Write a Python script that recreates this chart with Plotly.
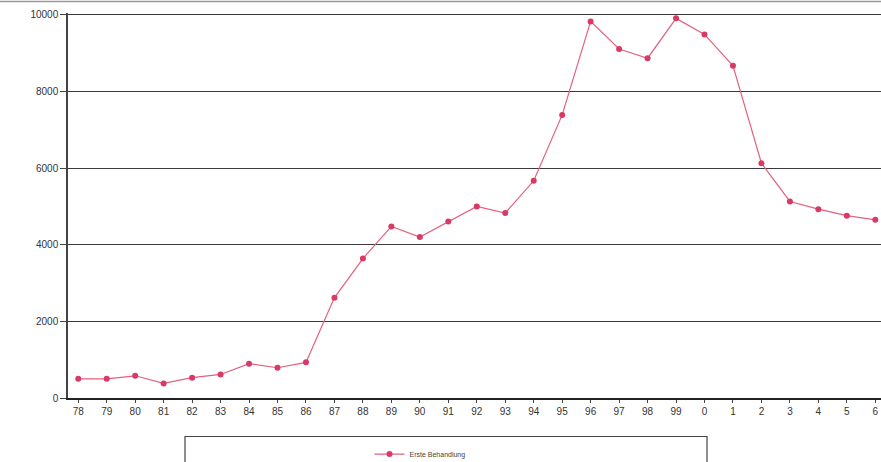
import plotly.graph_objects as go

# Jahre (zweistellig) und Anzahl der Erstbehandlungen
years = ["78", "79", "80", "81", "82", "83", "84", "85", "86", "87", "88", "89",
         "90", "91", "92", "93", "94", "95", "96", "97", "98", "99",
         "0", "1", "2", "3", "4", "5", "6"]
erste_behandlung = [500, 500, 580, 380, 530, 615, 895, 790, 930, 2620, 3640, 4480,
                    4200, 4610, 5000, 4830, 5670, 7390, 9830, 9110, 8870, 9910,
                    9490, 8670, 6130, 5130, 4930, 4760, 4650]
y_ticks = [0, 2000, 4000, 6000, 8000, 10000]

fig = go.Figure()
fig.add_trace(go.Scatter(
    x=list(range(len(years))),
    y=erste_behandlung,
    mode="lines+markers",
    name="Erste Behandlung",
    line=dict(color="#e4607e", width=1.2),
    marker=dict(symbol="circle", size=6, color="#d83a64"),
))

fig.update_layout(
    width=881, height=462,
    margin=dict(l=68, r=0, t=13, b=64, autoexpand=False),
    paper_bgcolor="white", plot_bgcolor="white",
    font=dict(family="Liberation Sans, Arial, sans-serif", size=10, color="#333333"),
    showlegend=True,
    legend=dict(
        x=(420 - 68) / 813, y=-0.108, xanchor="center", yanchor="top",
        orientation="h", bgcolor="rgba(0,0,0,0)",
        font=dict(size=7, color="#444444"),
    ),
    shapes=[
        # Rahmen der Legende
        dict(type="rect", xref="paper", yref="paper",
             x0=(185 - 68) / 813, x1=(707 - 68) / 813,
             y0=-0.25, y1=-0.10,
             line=dict(color="#444444", width=1.2)),
        # obere Begrenzungslinie
        dict(type="line", xref="paper", yref="paper",
             x0=-0.084, x1=1.0, y0=1.03, y1=1.03,
             line=dict(color="#999999", width=1.5)),
    ],
)

fig.update_xaxes(
    range=[-0.36, 28.2],
    tickmode="array",
    tickvals=list(range(len(years))),
    ticktext=years,
    showgrid=False,
    showline=True, linecolor="#222222", linewidth=1.5,
    ticks="outside", ticklen=3, tickcolor="#444444",
    tickson="boundaries",
    tickfont=dict(size=10, color="#333333"),
    zeroline=False,
)

fig.update_yaxes(
    range=[0, 10050],
    tickvals=y_ticks,
    ticktext=[str(v) for v in y_ticks],
    showgrid=True, gridcolor="#3a3a3a", gridwidth=1.2,
    showline=True, linecolor="#444444", linewidth=1.5,
    ticks="outside", ticklen=6, tickcolor="#444444",
    tickfont=dict(size=10, color="#333333"),
    zeroline=False,
)

fig.write_html("out.html")
